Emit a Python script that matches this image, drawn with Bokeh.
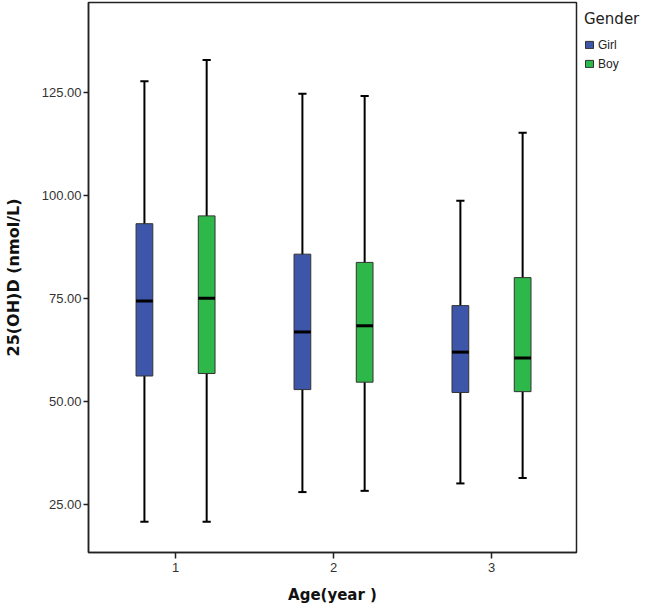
from bokeh.plotting import figure
from bokeh.models import ColumnDataSource, FixedTicker, NumeralTickFormatter, Legend, LegendItem, Range1d
from bokeh.transform import dodge
from bokeh.embed import file_html
from bokeh.resources import INLINE

# ---- data ----
ages = [1, 2, 3]
age_labels = ["1", "2", "3"]
y_ticks = [25, 50, 75, 100, 125]

girl_low = [20.7, 27.9, 30.0]
girl_q1 = [56.1, 52.8, 52.1]
girl_median = [74.3, 66.8, 61.9]
girl_q3 = [93.1, 85.7, 73.2]
girl_high = [127.7, 124.7, 98.7]

boy_low = [20.7, 28.2, 31.3]
boy_q1 = [56.7, 54.6, 52.3]
boy_median = [75.0, 68.3, 60.5]
boy_q3 = [95.0, 83.7, 80.0]
boy_high = [132.9, 124.1, 115.2]

GIRL_COLOR = "#3D56AA"
BOY_COLOR = "#2FB84A"
FONT = "Liberation Sans"
TITLE_FONT = "DejaVu Sans"

OFFSET = 0.197
BOX_W = 0.106
CAP_HALF = 0.026

p = figure(frame_width=488, frame_height=550,
           x_range=Range1d(0.449, 3.538), y_range=Range1d(13.22, 146.84),
           output_backend="svg", toolbar_location=None,
           min_border_left=88, min_border_top=2, min_border_bottom=56, min_border_right=72)

p.xgrid.visible = False
p.ygrid.visible = False
p.outline_line_color = "#222222"
p.outline_line_width = 1.5
p.background_fill_color = "white"
p.border_fill_color = "white"

def draw_group(low, q1, med, q3, high, off, color):
    src = ColumnDataSource(dict(age=ages, low=low, q1=q1, med=med, q3=q3, high=high))
    # whisker stem
    p.segment(x0=dodge("age", off, range=p.x_range), x1=dodge("age", off, range=p.x_range),
              y0="low", y1="high", source=src, line_color="black", line_width=2)
    # caps
    for key in ("low", "high"):
        p.segment(x0=dodge("age", off - CAP_HALF, range=p.x_range),
                  x1=dodge("age", off + CAP_HALF, range=p.x_range),
                  y0=key, y1=key, source=src, line_color="black", line_width=2)
    box = p.vbar(x=dodge("age", off, range=p.x_range), width=BOX_W, bottom="q1", top="q3",
                 source=src, fill_color=color, line_color="#333333", line_width=1)
    p.segment(x0=dodge("age", off - BOX_W / 2, range=p.x_range),
              x1=dodge("age", off + BOX_W / 2, range=p.x_range),
              y0="med", y1="med", source=src, line_color="black", line_width=3)
    return box

girl_box = draw_group(girl_low, girl_q1, girl_median, girl_q3, girl_high, -OFFSET, GIRL_COLOR)
boy_box = draw_group(boy_low, boy_q1, boy_median, boy_q3, boy_high, OFFSET, BOY_COLOR)

# axes
p.xaxis.ticker = FixedTicker(ticks=ages)
p.xaxis.major_label_overrides = {a: l for a, l in zip(ages, age_labels)}
p.yaxis.ticker = FixedTicker(ticks=y_ticks)
p.yaxis.formatter = NumeralTickFormatter(format="0.00")

for ax in (p.xaxis[0], p.yaxis[0]):
    ax.axis_line_color = "#222222"
    ax.axis_line_width = 1.5
    ax.major_tick_line_color = "#222222"
    ax.major_tick_line_width = 1.5
    ax.major_tick_in = 0
    ax.minor_tick_line_color = None
    ax.major_label_text_font = FONT
    ax.major_label_text_font_size = "13px"
    ax.major_label_text_color = "#333333"
    ax.axis_label_text_font = TITLE_FONT
    ax.axis_label_text_font_style = "bold"
    ax.axis_label_text_color = "#111111"

p.xaxis.axis_label = "Age(year )"
p.yaxis.axis_label = "25(OH)D (nmol/L)"
p.xaxis.axis_label_text_font_size = "15px"
p.yaxis.axis_label_text_font_size = "16px"
p.xaxis.major_tick_out = 6
p.xaxis.major_label_standoff = 4
p.xaxis.axis_label_standoff = 11
p.yaxis.major_tick_out = 5
p.yaxis.major_label_standoff = 2
p.yaxis.axis_label_standoff = 16

legend = Legend(items=[LegendItem(label="Girl", renderers=[girl_box]),
                       LegendItem(label="Boy", renderers=[boy_box])],
                title="Gender", location="top_left",
                title_text_font=TITLE_FONT, title_text_font_size="15px", title_text_font_style="normal",
                title_text_color="#222222", title_standoff=7,
                label_text_font=FONT, label_text_font_size="12px", label_text_color="#222222",
                glyph_width=10, glyph_height=9, label_height=19, label_standoff=4,
                spacing=0, padding=8, margin=0,
                border_line_color="white", border_line_alpha=0,
                background_fill_alpha=0)
p.add_layout(legend, "right")

open("out.html", "w").write(file_html(p, INLINE))
